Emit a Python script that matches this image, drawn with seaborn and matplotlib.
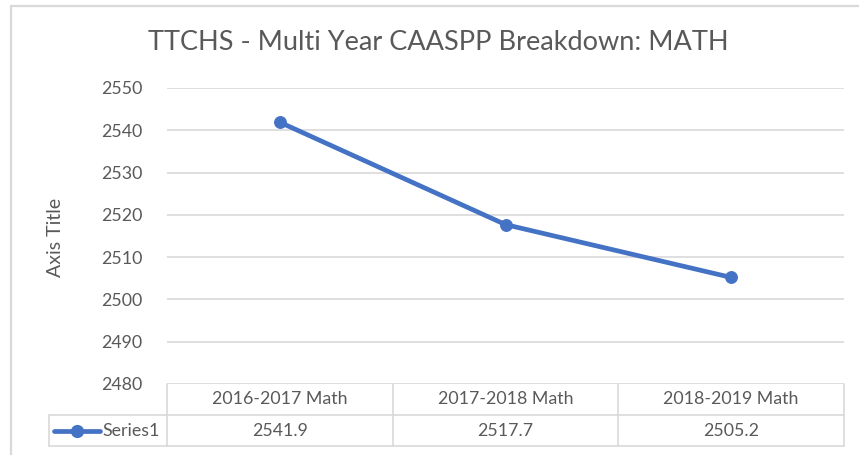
import matplotlib
matplotlib.use("Agg")
import matplotlib.pyplot as plt
import seaborn as sns
import pandas as pd
from matplotlib.transforms import blended_transform_factory
from matplotlib.lines import Line2D

categories = ["2016-2017 Math", "2017-2018 Math", "2018-2019 Math"]
values = [2541.9, 2517.7, 2505.2]
series_name = "Series1"
yticks = [2480, 2490, 2500, 2510, 2520, 2530, 2540, 2550]
title = "TTCHS - Multi Year CAASPP Breakdown: MATH"
ylabel = "Axis Title"

sns.set_theme(style="white")
plt.rcParams['font.family'] = ['Lato', 'DejaVu Sans']

W, H = 859, 455
fig = plt.figure(figsize=(W / 100, H / 100), dpi=100)
fig.patch.set_facecolor("white")

def fx(px):
    return px / W

def fy(py):
    return 1 - py / H

ax = fig.add_axes([fx(167), fy(384), fx(844) - fx(167), fy(88) - fy(384)])

df = pd.DataFrame({"cat": categories, "val": values, "x": range(len(categories))})
LINE = "#4472C4"
TXT = "#595959"
GRID = "#D9D9D9"
FS = 12.8

sns.lineplot(data=df, x="x", y="val", ax=ax, color=LINE, linewidth=3.4,
             marker="o", markersize=8.5, markeredgecolor=LINE, markerfacecolor=LINE,
             zorder=5, clip_on=False)

ax.set_xlim(-0.5, len(categories) - 0.5)
ax.set_ylim(yticks[0], yticks[-1])
ax.set_yticks(yticks)
ax.set_yticklabels([str(t) for t in yticks])
ax.set_xticks([])
ax.set_xlabel("")
ax.set_ylabel("")
for s in ax.spines.values():
    s.set_visible(False)
ax.grid(False)
for t in yticks:
    ax.axhline(t, color=GRID, linewidth=1.2, zorder=1)
ax.tick_params(axis="y", length=0, pad=18, labelsize=FS, labelcolor=TXT)

# Title and axis title
fig.text(fx(438), fy(43), title, ha="center", va="center", fontsize=19.5,
         color=TXT, fontweight="normal")
fig.text(fx(55.5), fy(237), ylabel, ha="center", va="center", rotation=90,
         fontsize=14, color=TXT)

# Data table
trans = blended_transform_factory(ax.transData, ax.transAxes)
axh = 384 - 88
rh = 31 / axh
n = len(categories)
lw = 1.2
for i in range(n + 1):
    ax.add_line(Line2D([i - 0.5, i - 0.5], [0, -2 * rh], transform=trans,
                       color=GRID, lw=lw, clip_on=False))
for yy in [-rh, -2 * rh]:
    ax.add_line(Line2D([-0.5, n - 0.5], [yy, yy], transform=trans,
                       color=GRID, lw=lw, clip_on=False))
for i, (c, v) in enumerate(zip(categories, values)):
    ax.text(i, -0.5 * rh, c, transform=trans, ha="center", va="center",
            fontsize=FS, color=TXT)
    ax.text(i, -1.5 * rh, f"{v:.1f}", transform=trans, ha="center", va="center",
            fontsize=FS, color=TXT)

# left legend cell
left = (49 - 167) / (844 - 167)
for yy in [-rh, -2 * rh]:
    ax.add_line(Line2D([left, 0], [yy, yy], transform=ax.transAxes,
                       color=GRID, lw=lw, clip_on=False))
ax.add_line(Line2D([left, left], [-rh, -2 * rh], transform=ax.transAxes,
                   color=GRID, lw=lw, clip_on=False))
fig.add_artist(Line2D([fx(54), fx(100)], [fy(430.5), fy(430.5)], color=LINE, lw=3.4))
fig.add_artist(Line2D([fx(77)], [fy(430.5)], color=LINE, marker="o", markersize=8.5,
                      markeredgecolor=LINE, lw=0))
fig.text(fx(102), fy(430.5), series_name, ha="left", va="center", fontsize=FS, color=TXT)

# chart border
fig.add_artist(Line2D([fx(11), fx(11)], [fy(6), 0], color=GRID, lw=1.6))
fig.add_artist(Line2D([fx(11), 1], [fy(6), fy(6)], color=GRID, lw=1.6))

fig.savefig("out.png", dpi=100, facecolor="white")
